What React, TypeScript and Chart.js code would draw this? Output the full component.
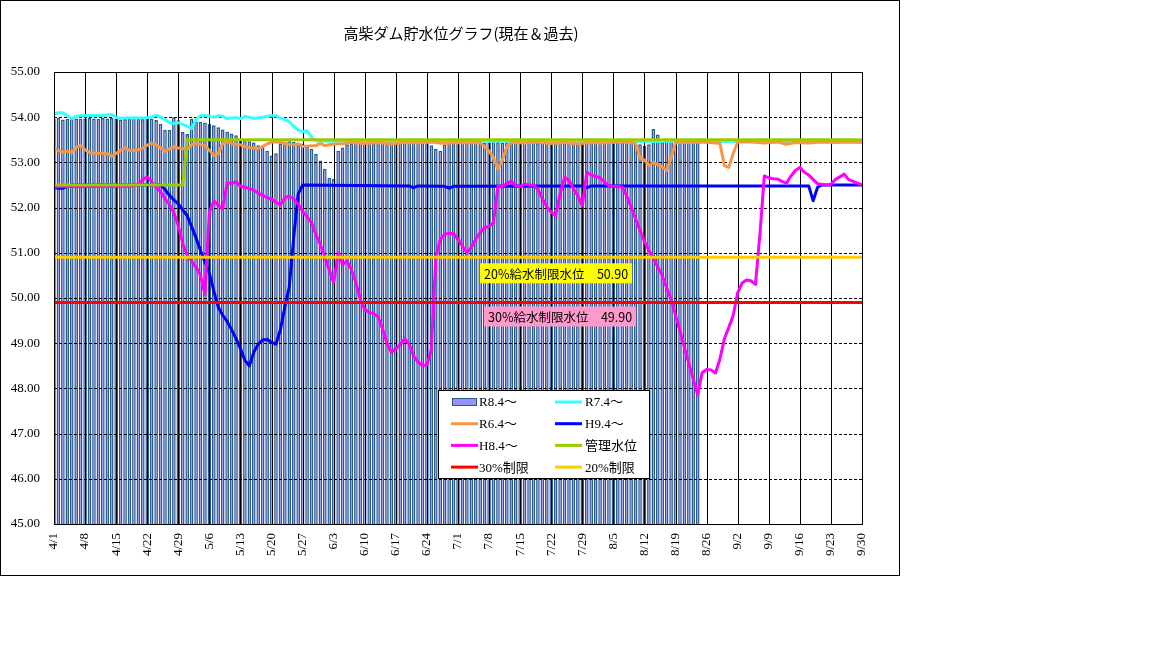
import React, { useEffect, useRef } from 'react';
import { Chart, registerables } from 'chart.js';

Chart.register(...registerables);

// 日付ラベル（4/1〜9/30）
const months = [4, 5, 6, 7, 8, 9];
const monthDays = [30, 31, 30, 31, 31, 30];
const dayLabels: string[] = [];
months.forEach((m, i) => {
  for (let d = 1; d <= monthDays[i]; d++) dayLabels.push(`${m}/${d}`);
});

const yMin = 45;
const yMax = 55;

// R8 貯水位（4/1から日毎）
const r8Levels = [
  53.97, 53.98, 53.95, 53.96, 53.98, 53.97, 53.96, 53.97, 53.98, 53.97,
  53.96, 53.98, 53.97, 53.98, 53.96, 53.95, 53.96, 53.97, 53.98, 53.97,
  53.96, 53.97, 53.96, 53.94, 53.85, 53.72, 53.72, 54.0, 53.93, 53.67,
  53.63, 53.96, 53.9, 53.9, 53.88, 53.85, 53.82, 53.78, 53.73, 53.68,
  53.64, 53.6, 53.52, 53.5, 53.47, 53.44, 53.38, 53.36, 53.26, 53.15,
  53.2, 53.42, 53.46, 53.47, 53.45, 53.43, 53.42, 53.36, 53.3, 53.19,
  53.04, 52.86, 52.66, 52.63, 53.26, 53.33, 53.4, 53.42, 53.44, 53.45,
  53.43, 53.44, 53.46, 53.45, 53.44, 53.46, 53.45, 53.43, 53.44, 53.45,
  53.46, 53.44, 53.45, 53.43, 53.44, 53.38, 53.3, 53.26, 53.4, 53.44,
  53.45, 53.46, 53.44, 53.45, 53.46, 53.44, 53.45, 53.43, 53.44, 53.46,
  53.45, 53.44, 53.46, 53.45, 53.44, 53.45, 53.46, 53.44, 53.45, 53.43,
  53.44, 53.46, 53.45, 53.44, 53.45, 53.46, 53.44, 53.45, 53.46, 53.44,
  53.45, 53.44, 53.46, 53.45, 53.44, 53.45, 53.46, 53.44, 53.45, 53.43,
  53.44, 53.42, 53.4, 53.37, 53.4, 53.74, 53.62, 53.45, 53.46, 53.48,
  53.45, 53.44, 53.46, 53.45, 53.44, 53.45,
];

// [日番号(4/1=0), 水位]
const r7Points: [number, number][] = [
  [0, 54.07], [1, 54.1], [2, 54.1], [3, 54.03], [4, 53.97], [5, 54.02], [6, 54.03], [7, 54.03],
  [9, 54.04], [11, 54.04], [12, 54.05], [13, 54.06], [14, 54.0], [15, 53.97], [16, 53.98],
  [18, 53.98], [20, 53.98], [22, 54.0], [23, 54.04], [24, 54.0], [25, 53.95], [26, 53.88],
  [27, 53.86], [28, 53.88], [29, 53.84], [30, 53.8], [31, 53.75], [32, 53.95], [33, 54.03],
  [34, 54.04], [35, 54.02], [36, 54.0], [37, 54.03], [38, 54.02], [39, 53.97], [40, 53.98],
  [41, 53.99], [42, 53.97], [43, 54.02], [44, 54.0], [45, 53.97], [46, 53.99], [47, 54.0],
  [48, 54.02], [49, 54.03], [50, 54.03], [51, 53.98], [52, 53.95], [53, 53.9], [54, 53.8],
  [55, 53.72], [56, 53.68], [57, 53.7], [58, 53.56], [59, 53.48], [62, 53.47], [70, 53.46],
  [80, 53.47], [90, 53.46], [100, 53.47], [110, 53.46], [120, 53.47], [130, 53.46],
  [140, 53.47], [150, 53.46], [160, 53.47], [170, 53.46], [182, 53.47],
];

const r6Points: [number, number][] = [
  [0, 53.33], [1, 53.26], [2, 53.23], [3, 53.25], [4, 53.22], [5, 53.33], [6, 53.37], [7, 53.28],
  [8, 53.22], [9, 53.2], [10, 53.2], [11, 53.2], [12, 53.19], [13, 53.13], [14, 53.2], [15, 53.26],
  [16, 53.33], [17, 53.26], [18, 53.27], [19, 53.28], [20, 53.31], [21, 53.38], [22, 53.42],
  [23, 53.39], [24, 53.32], [25, 53.24], [26, 53.3], [27, 53.35], [28, 53.32], [29, 53.3],
  [30, 53.3], [31, 53.39], [32, 53.42], [33, 53.4], [34, 53.37], [35, 53.27], [36, 53.15],
  [37, 53.19], [38, 53.42], [39, 53.455], [40, 53.42], [41, 53.4], [42, 53.39], [43, 53.35],
  [44, 53.33], [45, 53.32], [46, 53.31], [47, 53.35], [48, 53.41], [49, 53.45], [50, 53.455],
  [51, 53.44], [52, 53.42], [53, 53.4], [54, 53.39], [55, 53.41], [56, 53.35], [57, 53.36],
  [58, 53.37], [59, 53.37], [60, 53.42], [61, 53.37], [62, 53.39], [63, 53.4], [64, 53.41],
  [65, 53.41], [67, 53.44], [70, 53.42], [73, 53.44], [76, 53.41], [79, 53.44], [82, 53.43],
  [85, 53.45], [88, 53.42], [91, 53.44], [94, 53.43], [96, 53.44], [97, 53.35], [98, 53.25],
  [99, 53.1], [100, 52.85], [101, 53.05], [102, 53.35], [103, 53.44], [106, 53.43], [109, 53.45],
  [112, 53.42], [115, 53.44], [118, 53.41], [121, 53.44], [124, 53.43], [127, 53.45], [130, 53.44],
  [131, 53.42], [132, 53.1], [133, 53.05], [134, 52.93], [135, 53.0], [136, 52.95], [137, 52.9],
  [138, 52.82], [139, 53.1], [140, 53.44], [143, 53.44], [146, 53.45], [148, 53.44], [150, 53.42],
  [151, 52.93], [152, 52.89], [153, 53.2], [154, 53.45], [157, 53.45], [160, 53.43], [163, 53.45],
  [165, 53.4], [167, 53.44], [170, 53.43], [173, 53.45], [176, 53.44], [179, 53.45], [182, 53.44],
];

const h9Points: [number, number][] = [
  [0, 52.45], [1, 52.43], [2, 52.43], [3, 52.47], [4, 52.5], [24, 52.5], [25, 52.4], [26, 52.27],
  [27, 52.17], [28, 52.08], [29, 51.95], [30, 51.82], [31, 51.58], [32, 51.33], [33, 51.05],
  [34, 50.8], [35, 50.55], [36, 50.15], [37, 49.8], [38, 49.62], [39, 49.48], [40, 49.3],
  [41, 49.1], [42, 48.88], [43, 48.62], [44, 48.5], [45, 48.8], [46, 48.98], [47, 49.07],
  [48, 49.08], [49, 49.02], [50, 48.98], [51, 49.3], [52, 49.8], [53, 50.25], [54, 51.35],
  [55, 52.3], [56, 52.5], [80, 52.48], [81, 52.44], [82, 52.48], [88, 52.47], [89, 52.43],
  [90, 52.47], [119, 52.48], [120, 52.44], [121, 52.48], [170, 52.48], [171, 52.15],
  [172, 52.45], [173, 52.5], [182, 52.5],
];

const h8Points: [number, number][] = [
  [0, 52.46], [3, 52.47], [6, 52.46], [10, 52.47], [14, 52.48], [17, 52.47], [19, 52.5],
  [20, 52.62], [21, 52.68], [22, 52.57], [23, 52.45], [24, 52.35], [25, 52.2], [26, 52.07],
  [27, 51.88], [28, 51.6], [29, 51.2], [30, 50.95], [31, 50.82], [32, 50.68], [33, 50.5],
  [34, 50.08], [35, 51.9], [36, 52.15], [37, 52.05], [38, 51.97], [39, 52.55], [40, 52.54],
  [41, 52.57], [42, 52.47], [43, 52.45], [44, 52.42], [45, 52.39], [46, 52.32], [47, 52.27],
  [48, 52.22], [49, 52.19], [50, 52.12], [51, 52.06], [52, 52.22], [53, 52.25], [54, 52.19],
  [55, 52.08], [56, 51.92], [57, 51.8], [58, 51.67], [59, 51.4], [60, 51.18], [61, 50.92],
  [62, 50.62], [63, 50.34], [64, 51.0], [65, 50.74], [66, 50.82], [67, 50.63], [68, 50.34],
  [69, 49.97], [70, 49.75], [71, 49.68], [72, 49.66], [73, 49.58], [74, 49.32], [75, 49.0],
  [76, 48.8], [77, 48.88], [78, 48.97], [79, 49.1], [80, 48.98], [81, 48.72], [82, 48.58],
  [83, 48.51], [84, 48.52], [85, 48.86], [86, 50.9], [87, 51.3], [88, 51.41], [89, 51.43],
  [90, 51.42], [91, 51.3], [92, 51.15], [93, 51.0], [94, 51.12], [95, 51.3], [96, 51.45],
  [97, 51.56], [98, 51.58], [99, 51.67], [100, 52.48], [101, 52.47], [102, 52.53], [103, 52.59],
  [104, 52.48], [105, 52.47], [106, 52.52], [107, 52.5], [108, 52.5], [109, 52.4], [110, 52.2],
  [111, 52.02], [112, 51.9], [113, 51.82], [114, 52.3], [115, 52.67], [116, 52.6], [117, 52.42],
  [118, 52.26], [119, 52.04], [120, 52.78], [121, 52.72], [122, 52.69], [123, 52.66], [124, 52.56],
  [125, 52.48], [126, 52.47], [127, 52.47], [128, 52.45], [129, 52.26], [130, 52.02], [131, 51.75],
  [132, 51.5], [133, 51.25], [134, 51.05], [135, 50.9], [136, 50.68], [137, 50.5], [138, 50.22],
  [139, 49.97], [140, 49.62], [141, 49.28], [142, 48.9], [143, 48.55], [144, 48.2], [145, 47.86],
  [146, 48.35], [147, 48.42], [148, 48.41], [149, 48.34], [150, 48.65], [151, 49.1], [152, 49.35],
  [153, 49.62], [154, 50.12], [155, 50.33], [156, 50.4], [157, 50.38], [158, 50.3], [159, 51.4],
  [160, 52.7], [161, 52.66], [162, 52.64], [163, 52.63], [164, 52.58], [165, 52.54], [166, 52.7],
  [167, 52.82], [168, 52.89], [169, 52.78], [170, 52.72], [171, 52.62], [172, 52.53], [173, 52.51],
  [174, 52.5], [175, 52.52], [176, 52.62], [177, 52.68], [178, 52.74], [179, 52.62], [180, 52.58],
  [181, 52.54], [182, 52.5],
];

const kanriPoints: [number, number][] = [[0, 52.5], [29, 52.5], [30, 53.5], [182, 53.5]];

const limit30 = 49.9;
const limit20 = 50.9;

const COLORS = {
  barFill: '#9494FA',
  barEdge: '#2B5A8C',
  r7: '#33FFFF',
  r6: '#F79646',
  h9: '#0000FF',
  h8: '#FF00FF',
  kanri: '#99CC00',
  lim30: '#FF0000',
  lim20: '#FFCC00',
};

const SERIF = '"Liberation Serif", "Noto Sans CJK JP", serif';
const GOTHIC = '"Noto Sans CJK JP", "DejaVu Sans", sans-serif';

// 疎な点列を日毎配列に並べる（間は null、線は spanGaps で結ぶ）
const toDaily = (pts: [number, number][]) => {
  const arr: (number | null)[] = dayLabels.map(() => null);
  pts.forEach(([d, v]) => { arr[d] = v; });
  return arr;
};

const legendItems = [
  { label: 'R8.4～', color: COLORS.barFill, bar: true },
  { label: 'R7.4～', color: COLORS.r7 },
  { label: 'R6.4～', color: COLORS.r6 },
  { label: 'H9.4～', color: COLORS.h9 },
  { label: 'H8.4～', color: COLORS.h8 },
  { label: '管理水位', color: COLORS.kanri },
  { label: '30%制限', color: COLORS.lim30 },
  { label: '20%制限', color: COLORS.lim20 },
];

// 目盛線は棒の上、折れ線の下に描く（Excel風）
const gridOverPlugin = {
  id: 'gridOver',
  afterDatasetDraw(chart: any, args: any) {
    if (args.index !== 0) return;
    const { ctx, chartArea: a, scales } = chart;
    ctx.save();
    ctx.beginPath();
    ctx.rect(a.left, a.top, a.right - a.left, a.bottom - a.top);
    ctx.clip();
    ctx.strokeStyle = '#000';
    ctx.lineWidth = 1;
    ctx.setLineDash([3, 2]);
    for (let v = yMin + 1; v < yMax; v++) {
      const py = Math.round(scales.y.getPixelForValue(v)) + 0.5;
      ctx.beginPath();
      ctx.moveTo(a.left, py);
      ctx.lineTo(a.right, py);
      ctx.stroke();
    }
    ctx.setLineDash([]);
    for (let i = 0; i < dayLabels.length; i += 7) {
      const px = Math.round(scales.x.getPixelForValue(i)) + 0.5;
      ctx.beginPath();
      ctx.moveTo(px, a.top);
      ctx.lineTo(px, a.bottom);
      ctx.stroke();
    }
    ctx.restore();
  },
};

const decorPlugin = {
  id: 'decor',
  afterDraw(chart: any) {
    const { ctx, chartArea: a, scales } = chart;
    const y = scales.y;
    ctx.save();

    // プロットエリア枠と外枠
    ctx.strokeStyle = '#000';
    ctx.lineWidth = 1;
    ctx.strokeRect(a.left + 0.5, a.top + 0.5, a.right - a.left, a.bottom - a.top);
    ctx.strokeRect(0.5, 0.5, chart.width - 1, chart.height - 1);

    // タイトル
    ctx.fillStyle = '#000';
    ctx.font = `15px ${GOTHIC}`;
    ctx.textAlign = 'center';
    ctx.textBaseline = 'middle';
    ctx.fillText('高柴ダム貯水位グラフ(現在＆過去)', 461, 33);

    // 制限水位ラベル
    const tag = (text: string, left: number, top: number, bg: string) => {
      ctx.font = `12.5px ${GOTHIC}`;
      const w = ctx.measureText(text).width + 8;
      ctx.fillStyle = bg;
      ctx.fillRect(left, top, w, 20);
      ctx.fillStyle = '#000';
      ctx.textAlign = 'left';
      ctx.textBaseline = 'middle';
      ctx.fillText(text, left + 4, top + 10.5);
    };
    tag(`20%給水制限水位　${limit20.toFixed(2)}`, 480, y.getPixelForValue(limit20) + 6, '#FFFF00');
    tag(`30%給水制限水位　${limit30.toFixed(2)}`, 484, y.getPixelForValue(limit30) + 4, '#FF99CC');

    // 凡例
    const lx = 438, ly = 390, lw = 211, lh = 88;
    ctx.fillStyle = '#fff';
    ctx.fillRect(lx, ly, lw, lh);
    ctx.strokeStyle = '#000';
    ctx.lineWidth = 1;
    ctx.strokeRect(lx + 0.5, ly + 0.5, lw, lh);
    const swatchX = [451, 555];
    const textX = [479, 585];
    ctx.font = `13px ${SERIF}`;
    ctx.textAlign = 'left';
    ctx.textBaseline = 'middle';
    legendItems.forEach((it, i) => {
      const col = i % 2;
      const row = Math.floor(i / 2);
      const cy = ly + 12 + row * 21.7;
      if (it.bar) {
        ctx.fillStyle = it.color;
        ctx.fillRect(swatchX[col] + 1, cy - 4, 24, 8);
        ctx.strokeStyle = COLORS.barEdge;
        ctx.strokeRect(swatchX[col] + 1.5, cy - 3.5, 24, 7);
      } else {
        ctx.strokeStyle = it.color;
        ctx.lineWidth = 3;
        ctx.beginPath();
        ctx.moveTo(swatchX[col], cy);
        ctx.lineTo(swatchX[col] + 27, cy);
        ctx.stroke();
        ctx.lineWidth = 1;
      }
      ctx.fillStyle = '#000';
      ctx.fillText(it.label, textX[col], cy + 1);
    });

    ctx.restore();
  },
};

const lineSet = (label: string, data: (number | null)[], color: string, order: number) => ({
  type: 'line' as const,
  label,
  data,
  borderColor: color,
  backgroundColor: color,
  borderWidth: 3,
  pointRadius: 0,
  spanGaps: true,
  tension: 0,
  fill: false,
  borderJoinStyle: 'round' as const,
  order,
});

const App: React.FC = () => {
  const canvasRef = useRef<HTMLCanvasElement | null>(null);
  const chartRef = useRef<Chart | null>(null);

  useEffect(() => {
    if (!canvasRef.current) return;
    if (chartRef.current) chartRef.current.destroy();

    chartRef.current = new Chart(canvasRef.current, {
      type: 'bar',
      data: {
        labels: dayLabels,
        datasets: [
          {
            type: 'bar',
            label: 'R8.4～',
            data: r8Levels,
            backgroundColor: COLORS.barFill,
            borderColor: COLORS.barEdge,
            borderWidth: 1.5,
            barPercentage: 0.82,
            categoryPercentage: 1,
            base: yMin,
            order: 8,
          } as any,
          lineSet('R7.4～', toDaily(r7Points), COLORS.r7, 7),
          lineSet('R6.4～', toDaily(r6Points), COLORS.r6, 6),
          lineSet('H9.4～', toDaily(h9Points), COLORS.h9, 5),
          lineSet('H8.4～', toDaily(h8Points), COLORS.h8, 4),
          lineSet('管理水位', toDaily(kanriPoints), COLORS.kanri, 3),
          lineSet('30%制限', dayLabels.map(() => limit30), COLORS.lim30, 2),
          lineSet('20%制限', dayLabels.map(() => limit20), COLORS.lim20, 1),
        ],
      },
      options: {
        responsive: false,
        animation: false,
        layout: { padding: { left: 0, right: 38, top: 72, bottom: 0 } },
        plugins: {
          legend: { display: false },
          tooltip: { enabled: false },
        },
        scales: {
          x: {
            type: 'category',
            offset: false,
            grid: { display: false, offset: false, drawTicks: false },
            border: { display: false },
            ticks: {
              autoSkip: false,
              maxRotation: 90,
              minRotation: 90,
              padding: 9,
              color: '#000',
              font: { family: SERIF, size: 13 },
              callback: (_v: any, i: number) => (i % 7 === 0 ? dayLabels[i] : ''),
            },
            afterFit: (s: any) => { s.height = 52; },
          },
          y: {
            min: yMin,
            max: yMax,
            grid: { display: false, drawTicks: false },
            border: { display: false },
            ticks: {
              stepSize: 1,
              padding: 14,
              color: '#000',
              font: { family: SERIF, size: 13 },
              callback: (v: any) => Number(v).toFixed(2),
            },
            afterFit: (s: any) => { s.width = 54; },
          },
        },
      } as any,
      plugins: [gridOverPlugin, decorPlugin],
    });

    return () => {
      if (chartRef.current) {
        chartRef.current.destroy();
        chartRef.current = null;
      }
    };
  }, []);

  return (
    <div style={{ position: 'absolute', left: 0, top: 0, width: 1152, height: 648, background: '#fff' }}>
      <canvas ref={canvasRef} width={900} height={576} style={{ display: 'block' }} />
    </div>
  );
};

export default App;
